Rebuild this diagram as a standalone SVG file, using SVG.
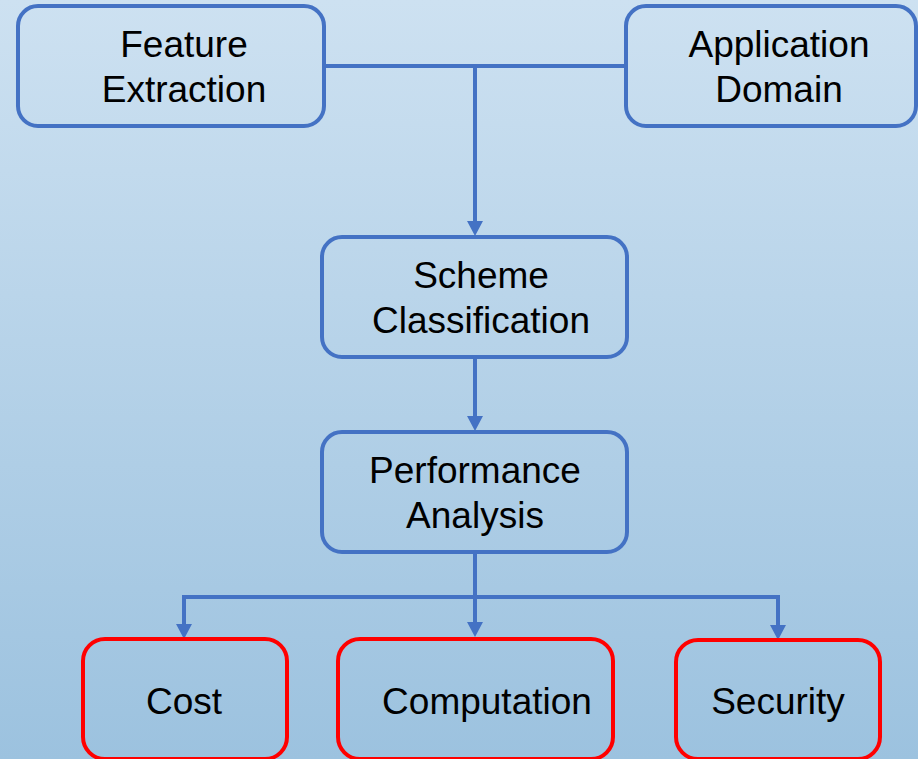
<svg xmlns="http://www.w3.org/2000/svg" width="918" height="759" viewBox="0 0 918 759">
<defs>
<linearGradient id="bg" x1="0" y1="0" x2="0" y2="1">
<stop offset="0" stop-color="#cde1f1"/>
<stop offset="1" stop-color="#9cc2df"/>
</linearGradient>
<style>
.blue{fill:none;stroke:#4472c4;stroke-width:4}
.red{fill:none;stroke:#ff0000;stroke-width:4}
.t{font-family:"Liberation Sans",Arial,sans-serif;font-size:37px;fill:#000;text-anchor:middle}
.c{fill:none;stroke:#4472c4;stroke-width:4}
.h{fill:#4472c4}
</style>
</defs>
<rect width="918" height="759" fill="url(#bg)"/>
<g id="connectors">
<path class="c" d="M324,66 H626"/>
<path class="c" d="M475,66 V224"/>
<polygon class="h" points="467,221 483,221 475,236"/>
<path class="c" d="M475,357 V419"/>
<polygon class="h" points="467,416 483,416 475,431"/>
<path class="c" d="M475,552 V625"/>
<polygon class="h" points="467,622 483,622 475,637"/>
<path class="c" d="M184,627 V597 H778 V628"/>
<polygon class="h" points="176,624 192,624 184,639"/>
<polygon class="h" points="770,625 786,625 778,640"/>
</g>
<g id="feature-extraction">
<rect class="blue" x="18" y="6" width="306" height="120" rx="20"/>
<text class="t" x="184" y="57">Feature</text>
<text class="t" x="184" y="102">Extraction</text>
</g>
<g id="application-domain">
<rect class="blue" x="626" y="6" width="290" height="120" rx="20"/>
<text class="t" x="779" y="57">Application</text>
<text class="t" x="779" y="102">Domain</text>
</g>
<g id="scheme-classification">
<rect class="blue" x="322" y="237" width="305" height="120" rx="20"/>
<text class="t" x="481" y="288">Scheme</text>
<text class="t" x="481" y="333">Classification</text>
</g>
<g id="performance-analysis">
<rect class="blue" x="322" y="432" width="305" height="120" rx="20"/>
<text class="t" x="475" y="483">Performance</text>
<text class="t" x="475" y="528">Analysis</text>
</g>
<g id="cost">
<rect class="red" x="83" y="639" width="204" height="120" rx="22"/>
<text class="t" x="184" y="714">Cost</text>
</g>
<g id="computation">
<rect class="red" x="338" y="639" width="275" height="120" rx="22"/>
<text class="t" x="487" y="714">Computation</text>
</g>
<g id="security">
<rect class="red" x="676" y="640" width="204" height="119" rx="22"/>
<text class="t" x="778" y="714">Security</text>
</g>
</svg>
